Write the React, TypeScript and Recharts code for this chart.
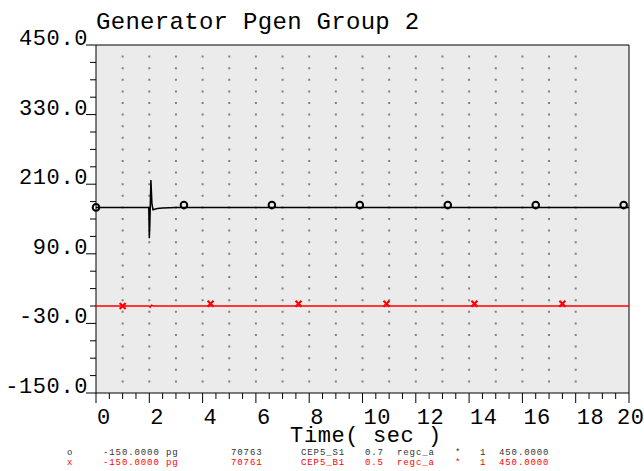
import {
  ComposedChart,
  Line,
  ReferenceArea,
  ReferenceLine,
  Scatter,
  XAxis,
  YAxis,
} from "recharts";

// ── data ────────────────────────────────────────────────────────────────────

const TITLE = "Generator Pgen Group 2";
const X_TITLE = "Time( sec )";

// black trace (CEP5_S1), flat with a short disturbance at t ≈ 2 s
const pgenS1 = [
  { t: 0, v: 170 },
  { t: 1.98, v: 170 },
  { t: 2.0, v: 117 },
  { t: 2.02, v: 140 },
  { t: 2.06, v: 217 },
  { t: 2.1, v: 175 },
  { t: 2.14, v: 166 },
  { t: 2.3, v: 168 },
  { t: 2.5, v: 169 },
  { t: 3.0, v: 170 },
  { t: 20, v: 170 },
];

// red trace (CEP5_B1), zero output
const pgenB1 = [
  { t: 0, v: 0 },
  { t: 1.99, v: 0 },
  { t: 2.03, v: -2 },
  { t: 2.08, v: 1.5 },
  { t: 2.15, v: 0 },
  { t: 20, v: 0 },
];

const markersS1 = [
  { t: 0, v: 170 },
  { t: 3.3, v: 174 },
  { t: 6.6, v: 174 },
  { t: 9.9, v: 174 },
  { t: 13.2, v: 174 },
  { t: 16.5, v: 174 },
  { t: 19.8, v: 174 },
];

const markersB1 = [
  { t: 1.0, v: 0 },
  { t: 4.3, v: 4 },
  { t: 7.6, v: 4 },
  { t: 10.9, v: 4 },
  { t: 14.2, v: 4 },
  { t: 17.5, v: 4 },
];

const xTicks = Array.from({ length: 41 }, (_, i) => i * 0.5);
const xLabelTicks = [0, 2, 4, 6, 8, 10, 12, 14, 16, 18, 20];
const yTicks = Array.from({ length: 21 }, (_, i) => -150 + i * 30);
const yLabelTicks = [-150, -30, 90, 210, 330, 450];
const gridRows = Array.from({ length: 29 }, (_, i) => -130 + i * 20);

const legendCols = [67, 103, 231, 301, 365, 397, 455, 480, 499];
const legendS1 = ["o", "-150.0000 pg", "70763", "CEP5_S1", "0.7", "regc_a", "*", "1", "450.0000"];
const legendB1 = ["x", "-150.0000 pg", "70761", "CEP5_B1", "0.5", "regc_a", "*", "1", "450.0000"];

// ── styling ─────────────────────────────────────────────────────────────────

const MONO = "'Liberation Mono', 'DejaVu Sans Mono', monospace";
const PLOT_BG = "#ebebeb";
const RED = "#ff0000";

// ── ticks ───────────────────────────────────────────────────────────────────

interface TickProps {
  x?: number;
  y?: number;
  payload?: { value: number };
  [key: string]: unknown;
}

function XTick({ x = 0, y = 0, payload }: TickProps) {
  const v = payload?.value ?? 0;
  const major = xLabelTicks.includes(v);
  return (
    <g>
      <line x1={x} x2={x} y1={y} y2={y + (major ? 10 : 6)} stroke="#000" />
      {major && (
        <text
          x={v === 20 ? x - 12 : x + 1}
          y={y + 31}
          fontFamily={MONO}
          fontSize={22}
          letterSpacing={0.5}
          fill="#000"
          textAnchor="start"
        >
          {v}
        </text>
      )}
    </g>
  );
}

function YTick({ x = 0, y = 0, payload }: TickProps) {
  const v = payload?.value ?? 0;
  const major = yLabelTicks.includes(v);
  return (
    <g>
      <line x1={x - (major ? 10 : 6)} x2={x} y1={y} y2={y} stroke="#000" />
      {major && (
        <text
          x={x - 8}
          y={y}
          fontFamily={MONO}
          fontSize={22}
          letterSpacing={0.6}
          fill="#000"
          textAnchor="end"
        >
          {v.toFixed(1)}
        </text>
      )}
    </g>
  );
}

// ── markers ─────────────────────────────────────────────────────────────────

interface ShapeProps {
  cx?: number;
  cy?: number;
  [key: string]: unknown;
}

function CircleMark({ cx = 0, cy = 0 }: ShapeProps) {
  return <circle cx={cx} cy={cy} r={3.3} fill="none" stroke="#000" strokeWidth={2} />;
}

function CrossMark({ cx = 0, cy = 0 }: ShapeProps) {
  const d = 3;
  return (
    <path
      d={`M${cx - d},${cy - d}L${cx + d},${cy + d}M${cx - d},${cy + d}L${cx + d},${cy - d}`}
      stroke={RED}
      strokeWidth={2.2}
    />
  );
}

// ── App ─────────────────────────────────────────────────────────────────────

export default function App() {
  return (
    <div style={{ position: "absolute", left: 0, top: 0, width: 644, height: 471, background: "#fff" }}>
      <ComposedChart width={644} height={471} margin={{ top: 45, right: 15, bottom: 0, left: 0 }}>
        <XAxis
          dataKey="t"
          type="number"
          domain={[0, 20]}
          ticks={xTicks}
          interval={0}
          height={78}
          tickSize={0}
          tickMargin={0}
          tickLine={false}
          axisLine={false}
          tick={<XTick />}
        />
        <YAxis
          dataKey="v"
          type="number"
          domain={[-150, 450]}
          ticks={yTicks}
          interval={0}
          width={96}
          tickSize={0}
          tickMargin={0}
          tickLine={false}
          axisLine={false}
          tick={<YTick />}
        />
        <ReferenceArea x1={0} x2={20} y1={-150} y2={450} fill={PLOT_BG} fillOpacity={1} stroke="#000" strokeWidth={1} />
        {gridRows.map((r) => (
          <ReferenceLine
            key={r}
            segment={[
              { x: 1, y: r },
              { x: 19, y: r },
            ]}
            stroke="#808080"
            strokeWidth={2}
            strokeDasharray="0 26.65"
            strokeLinecap="square"
          />
        ))}
        <Line
          data={pgenS1}
          dataKey="v"
          type="linear"
          stroke="#000"
          strokeWidth={1.5}
          dot={false}
          isAnimationActive={false}
        />
        <Line
          data={pgenB1}
          dataKey="v"
          type="linear"
          stroke={RED}
          strokeWidth={1.5}
          dot={false}
          isAnimationActive={false}
        />
        <Scatter data={markersS1} dataKey="v" shape={<CircleMark />} isAnimationActive={false} />
        <Scatter data={markersB1} dataKey="v" shape={<CrossMark />} isAnimationActive={false} />
      </ComposedChart>
      <svg
        width={644}
        height={471}
        style={{ position: "absolute", left: 0, top: 0, pointerEvents: "none" }}
      >
        <text x={96} y={29} fontFamily={MONO} fontSize={24} letterSpacing={0.3} fill="#000">
          {TITLE}
        </text>
        <text x={366} y={442} fontFamily={MONO} fontSize={22} letterSpacing={0.6} fill="#000" textAnchor="middle">
          {X_TITLE}
        </text>
        {legendS1.map((s, i) => (
          <text
            key={`a${i}`}
            x={legendCols[i]}
            y={455}
            fontFamily={MONO}
            fontSize={9}
            letterSpacing={0.9}
            fill="#333"
          >
            {s}
          </text>
        ))}
        {legendB1.map((s, i) => (
          <text
            key={`b${i}`}
            x={legendCols[i]}
            y={465}
            fontFamily={MONO}
            fontSize={9}
            letterSpacing={0.9}
            fill={RED}
          >
            {s}
          </text>
        ))}
      </svg>
    </div>
  );
}
